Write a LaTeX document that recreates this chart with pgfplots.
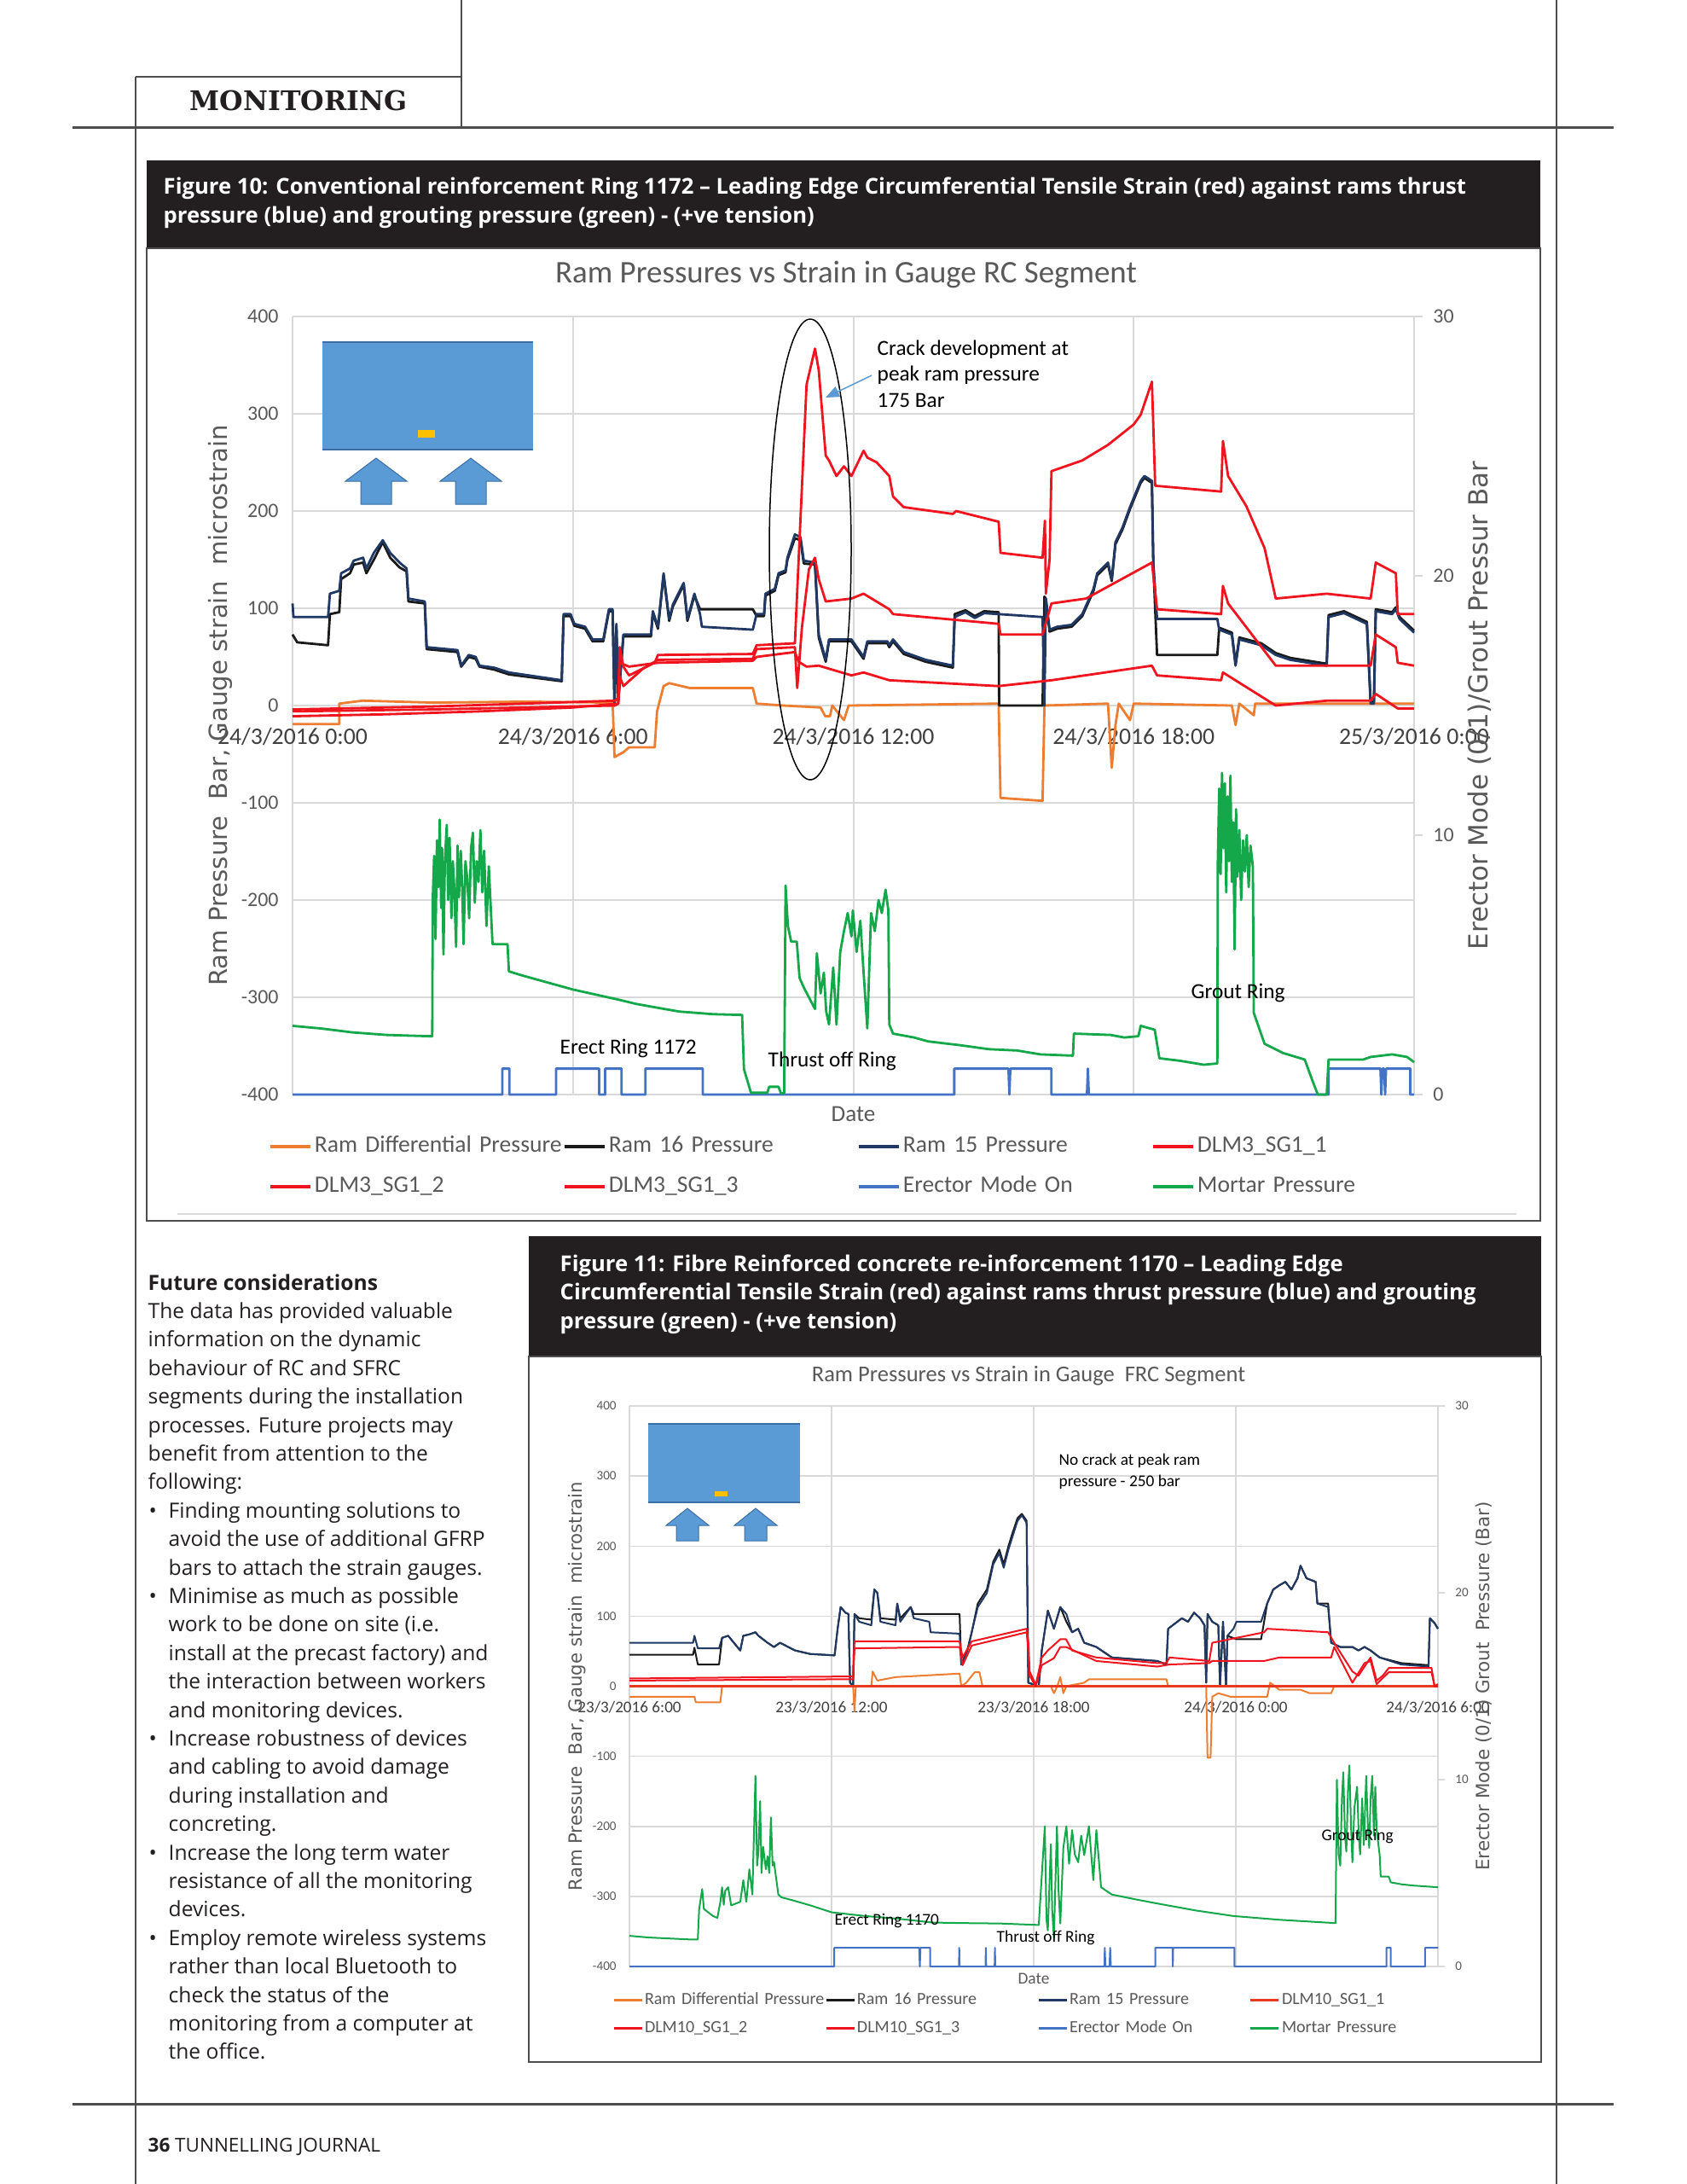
\documentclass[border=0pt]{standalone}
\usepackage{fontspec}
\setmainfont{Open Sans}
\newfontfamily\calibri{Carlito}
\newfontfamily\verd{DejaVu Sans}
\newfontfamily\slab{DejaVu Serif}
\usepackage{pgfplots}
\pgfplotsset{compat=1.18}
\usetikzlibrary{arrows.meta}

\definecolor{capbg}{HTML}{231F20}
\definecolor{inkc}{HTML}{231F20}
\definecolor{rule}{HTML}{4D4D4D}
\definecolor{gridc}{HTML}{D9D9D9}
\definecolor{tickc}{HTML}{595959}
\definecolor{labc}{HTML}{404040}
\definecolor{ramdiff}{HTML}{ED7D31}
\definecolor{ram16}{HTML}{1A1A1A}
\definecolor{ram15}{HTML}{1F3864}
\definecolor{sgred}{HTML}{F0141E}
\definecolor{sgone}{HTML}{E8381E}
\definecolor{erect}{HTML}{4472C4}
\definecolor{mortar}{HTML}{14A84B}
\definecolor{boxblue}{HTML}{5B9BD5}
\definecolor{boxedge}{HTML}{3A6EA5}
\definecolor{gauge}{HTML}{FFC000}

\newcommand\fs[2]{\fontsize{#1}{#2}\selectfont}
% one line of the left column: x, line number, text
\newcommand\tl[3]{\node[anchor=base west, inner sep=0pt, font=\fs{7pt}{8pt}, text=inkc] at ({#1},{1512+33.4*#2}) {#3};}
\newcommand\bul[1]{\node[anchor=base west, inner sep=0pt, font=\fs{7pt}{8pt}, text=inkc] at (174,{1512+33.4*#1}) {\textbullet};}

\pgfplotsset{
  chartbase/.style={scale only axis, xmin=0, xmax=24, clip=false, no markers,
    axis line style={draw=none}, every axis plot/.append style={line join=round}},
}

\begin{document}
\begin{tikzpicture}
\useasboundingbox (0,0) rectangle (197.8mm,-256mm);
\fill[white] (0,0) rectangle (197.8mm,-256mm);

\begin{scope}[x=0.1mm,y=-0.1mm]
  % page rules
  \draw[rule, line width=0.15mm] (159,90) -- (159,2560);
  \draw[rule, line width=0.15mm] (1825,0) -- (1825,2560);
  \draw[rule, line width=0.15mm] (541,0) -- (541,149);
  \draw[rule, line width=0.15mm] (159,90) -- (541,90);
  \draw[rule, line width=0.3mm] (85,149) -- (1892,149);
  \draw[rule, line width=0.3mm] (85,2466) -- (1892,2466);
  \node[font=\slab\bfseries\fs{9pt}{10pt}, text=inkc] at (350,118) {MONITORING};

  % figure 10 frame and caption
  \fill[capbg] (172,188) rectangle (1806,291);
  \draw[rule, line width=0.2mm] (172,291) rectangle (1806,1431);
  \draw[gridc, line width=0.2mm] (208,1423) -- (1778,1423);
  \node[anchor=base west, inner sep=0pt, font=\bfseries\fs{7.3pt}{8pt}, text=white] at (191,227)
    {Figure 10: Conventional reinforcement Ring 1172 – Leading Edge Circumferential Tensile Strain (red) against rams thrust};
  \node[anchor=base west, inner sep=0pt, font=\bfseries\fs{7.3pt}{8pt}, text=white] at (191,261)
    {pressure (blue) and grouting pressure (green) - (+ve tension)};
  \node[font=\calibri\fs{10.5pt}{12pt}, text=tickc] at (992,322) {Ram Pressures vs Strain in Gauge RC Segment};

  % figure 11 frame and caption
  \fill[capbg] (620,1449) rectangle (1807,1590);
  \draw[rule, line width=0.2mm] (620,1590) rectangle (1807,2417);
  \node[anchor=base west, inner sep=0pt, font=\bfseries\fs{7.3pt}{8pt}, text=white] at (656,1490)
    {Figure 11: Fibre Reinforced concrete re-inforcement 1170 – Leading Edge};
  \node[anchor=base west, inner sep=0pt, font=\bfseries\fs{7.3pt}{8pt}, text=white] at (656,1523)
    {Circumferential Tensile Strain (red) against rams thrust pressure (blue) and grouting};
  \node[anchor=base west, inner sep=0pt, font=\bfseries\fs{7.3pt}{8pt}, text=white] at (656,1557)
    {pressure (green) - (+ve tension)};
  \node[font=\calibri\fs{7.55pt}{9pt}, text=tickc] at (1206,1613) {Ram Pressures vs Strain in Gauge\ \ FRC Segment};

  % left column
  \node[anchor=base west, inner sep=0pt, font=\bfseries\fs{7pt}{8pt}, text=inkc] at (173,1512) {Future considerations};
  \tl{173}{1}{The data has provided valuable}
  \tl{173}{2}{information on the dynamic}
  \tl{173}{3}{behaviour of RC and SFRC}
  \tl{173}{4}{segments during the installation}
  \tl{173}{5}{processes. Future projects may}
  \tl{173}{6}{benefit from attention to the}
  \tl{173}{7}{following:}
  \bul{8}\tl{197}{8}{Finding mounting solutions to}
  \tl{197}{9}{avoid the use of additional GFRP}
  \tl{197}{10}{bars to attach the strain gauges.}
  \bul{11}\tl{197}{11}{Minimise as much as possible}
  \tl{197}{12}{work to be done on site (i.e.}
  \tl{197}{13}{install at the precast factory) and}
  \tl{197}{14}{the interaction between workers}
  \tl{197}{15}{and monitoring devices.}
  \bul{16}\tl{197}{16}{Increase robustness of devices}
  \tl{197}{17}{and cabling to avoid damage}
  \tl{197}{18}{during installation and}
  \tl{197}{19}{concreting.}
  \bul{20}\tl{197}{20}{Increase the long term water}
  \tl{197}{21}{resistance of all the monitoring}
  \tl{197}{22}{devices.}
  \bul{23}\tl{197}{23}{Employ remote wireless systems}
  \tl{197}{24}{rather than local Bluetooth to}
  \tl{197}{25}{check the status of the}
  \tl{197}{26}{monitoring from a computer at}
  \tl{197}{27}{the office.}

  % footer
  \node[anchor=base west, inner sep=0pt, font=\fs{6.4pt}{7pt}, text=inkc] at (173,2522) {\textbf{36} TUNNELLING JOURNAL};
\end{scope}

% ---------------- Figure 10, left axis ----------------
\begin{axis}[chartbase,
  at={(34.3mm,-37.1mm)}, anchor=north west, width=131.5mm, height=91.2mm,
  ymin=-400, ymax=400,
  xtick={0,6,12,18,24},
  xticklabels={24/3/2016 0:00,24/3/2016 6:00,24/3/2016 12:00,24/3/2016 18:00,25/3/2016 0:00},
  ytick={-400,-300,-200,-100,0,100,200,300,400},
  yticklabels={-400,-300,-200,-100,0,100,200,300,400},
  major tick length=0pt,
  grid=major, grid style={gridc, line width=0.2mm},
  xticklabel style={font=\calibri\fs{7.9pt}{9pt}, text=labc, anchor=center, yshift=42mm},
  yticklabel style={font=\calibri\fs{6.8pt}{8pt}, text=tickc, xshift=-0.4mm},
  xlabel={Date},
  xlabel style={font=\calibri\fs{7.7pt}{9pt}, text=tickc, at={(axis description cs:0.5,0)}, anchor=center, yshift=-2.3mm},
  ylabel={Ram Pressure\ \ Bar, Gauge strain\ \ microstrain},
  ylabel style={font=\verd\fs{8.3pt}{10pt}, text=tickc, at={(axis description cs:-0.0646,0.5)}, anchor=center},
  legend columns=4, legend cell align=left,
  legend image code/.code={\draw[#1, line width=0.4mm] (0mm,0mm) -- (4.7mm,0mm);},
  legend style={draw=none, fill=none, at={(-0.0213,-0.0526)}, anchor=north west,
    inner sep=0pt, outer sep=0pt, row sep=2.1mm, font=\calibri\fs{7.85pt}{9pt}, text=tickc,
    nodes={inner xsep=0pt, inner ysep=0pt, text height=2.0mm, text depth=0.6mm, text width=29.1mm, align=left},
    /tikz/every odd column/.append style={column sep=0.3mm}},
]
% Ram Differential Pressure
\addplot[ramdiff, line width=0.28mm] coordinates {
(0,-19) (1.0,-19) (1.0,2) (1.5,5) (3,3) (5,4) (6.85,3) (6.89,-53) (7.08,-48) (7.2,-43) (7.75,-43)
(7.8,-6) (7.94,20) (8.06,23) (8.5,18) (9.85,18) (9.93,2) (10.5,0) (11.3,-2) (11.4,-11) (11.5,-11)
(11.55,0) (11.8,-15) (11.9,0) (15.11,2) (15.15,-95) (16.05,-98) (16.09,0) (17.45,2) (17.53,-64)
(17.61,-20) (17.68,2) (17.92,-15) (18.0,2) (20.1,0) (20.18,-20) (20.26,2) (20.57,-10) (20.6,2) (24,2)};
% Ram 16 Pressure
\addplot[ram16, line width=0.28mm] coordinates {
(0,73) (0.1,65) (0.76,62) (0.8,94) (1.0,96) (1.04,130) (1.23,136) (1.31,145) (1.51,147) (1.58,136)
(1.74,150) (1.93,168) (2.09,152) (2.29,142) (2.44,138) (2.48,107) (2.83,105) (2.87,58) (3.53,55)
(3.61,40) (3.77,50) (3.92,48) (4.0,40) (4.31,37) (4.63,32) (5.76,25) (5.8,92) (5.95,92) (6.03,82)
(6.26,79) (6.42,66) (6.65,66) (6.77,97) (6.85,97) (6.89,0) (6.93,82) (6.97,4) (7.08,71) (7.2,71)
(7.67,71) (7.71,95) (7.82,79) (7.94,134) (8.06,87) (8.14,102) (8.37,124) (8.45,87) (8.6,113)
(8.72,99) (9.85,99) (9.93,92) (10.09,92) (10.12,113) (10.32,118) (10.4,134) (10.55,137) (10.59,150)
(10.75,172) (10.87,170) (10.94,146) (11.18,145) (11.26,70) (11.41,45) (11.48,66) (11.96,66)
(12.22,48) (12.3,64) (12.73,64) (12.77,60) (12.85,66) (13.08,53) (13.55,45) (14.13,39) (14.17,94)
(14.4,98) (14.6,92) (14.8,97) (15.11,96) (15.12,0) (16.05,0) (16.09,112) (16.12,110) (16.2,76)
(16.36,79) (16.67,81) (16.9,92) (17.14,118) (17.22,134) (17.45,145) (17.53,128) (17.61,166)
(17.76,181) (17.92,202) (18.15,229) (18.23,234) (18.39,229) (18.42,145) (18.5,52) (19.79,52)
(19.83,80) (20.1,75) (20.18,43) (20.26,70) (20.73,64) (21.04,54) (21.35,49) (22.13,43) (22.17,93)
(22.5,97) (22.99,86) (23.07,4) (23.14,4) (23.18,99) (23.53,96) (23.61,101) (23.69,91) (24.0,77)};
% Ram 15 Pressure
\addplot[ram15, line width=0.28mm] coordinates {
(0.0,105) (0.02,91) (0.76,91) (0.8,115) (1.0,118) (1.04,136) (1.23,141) (1.31,149) (1.51,152)
(1.58,141) (1.74,157) (1.93,170) (2.09,157) (2.29,147) (2.44,141) (2.48,110) (2.83,107) (2.87,60)
(3.53,57) (3.61,41) (3.77,52) (3.92,50) (4.0,41) (4.31,39) (4.63,34) (5.76,26) (5.8,94) (5.95,94)
(6.03,84) (6.26,81) (6.42,68) (6.65,68) (6.77,99) (6.85,99) (6.89,0) (6.93,84) (6.97,5) (7.08,73)
(7.2,73) (7.67,73) (7.71,97) (7.82,81) (7.94,136) (8.06,89) (8.14,104) (8.37,126) (8.45,89)
(8.6,115) (8.72,94) (8.76,81) (9.85,78) (9.93,94) (10.09,94) (10.12,115) (10.32,120) (10.4,136)
(10.55,139) (10.59,152) (10.75,176) (10.87,173) (10.94,149) (11.18,147) (11.26,73) (11.41,47)
(11.48,68) (11.96,68) (12.22,50) (12.3,66) (12.73,66) (12.77,62) (12.85,68) (13.08,55) (13.55,47)
(14.13,41) (14.17,91) (14.4,96) (14.6,90) (14.8,95) (15.11,94) (16.05,91) (16.09,0) (16.12,110)
(16.2,78) (16.36,81) (16.67,83) (16.9,94) (17.14,120) (17.22,136) (17.45,147) (17.53,130)
(17.61,168) (17.76,183) (17.92,204) (18.15,231) (18.23,236) (18.39,231) (18.42,147) (18.5,89)
(19.79,89) (19.83,78) (20.1,73) (20.18,41) (20.26,68) (20.73,62) (21.04,52) (21.35,47) (22.13,41)
(22.17,91) (22.5,95) (22.99,84) (23.07,2) (23.14,2) (23.18,97) (23.53,94) (23.61,99) (23.69,89) (24.0,75)};
% DLM3_SG1_1
\addplot[sgred, line width=0.28mm] coordinates {
(0,-11) (2,-9) (4,-6) (6,-2) (6.97,2) (7.0,60) (7.08,40) (7.2,31) (7.75,44) (7.82,52) (9.85,53)
(9.93,62) (10.75,64) (10.83,150) (11.0,330) (11.18,367) (11.26,345) (11.41,257) (11.48,252)
(11.64,236) (11.8,246) (11.96,236) (12.22,262) (12.3,255) (12.5,250) (12.77,236) (12.85,215)
(13.08,204) (14.13,197) (14.2,200) (15.11,189) (15.15,157) (16.05,152) (16.1,190) (16.12,115)
(16.2,150) (16.24,241) (16.9,252) (17.45,268) (18.0,289) (18.15,299) (18.39,333) (18.46,226)
(19.87,220) (19.91,272) (20.02,236) (20.41,205) (20.8,162) (21.04,110) (22.13,115) (23.07,110)
(23.18,147) (23.61,136) (23.65,94) (24.0,94)};
% DLM3_SG1_2
\addplot[sgred, line width=0.28mm] coordinates {
(0,-6) (3,-4) (6.9,0) (6.97,2) (7.0,30) (7.08,20) (7.5,38) (7.82,47) (9.85,48) (9.93,58)
(10.75,60) (10.8,18) (10.9,80) (11.05,140) (11.18,152) (11.26,130) (11.41,107) (11.96,110)
(12.22,115) (12.77,99) (12.85,94) (15.11,84) (15.15,73) (16.05,73) (16.24,105) (16.98,110)
(18.39,147) (18.5,99) (19.87,94) (19.91,123) (20.02,105) (21.04,41) (23.07,41) (23.18,73)
(23.61,60) (23.65,44) (24.0,41)};
% DLM3_SG1_3
\addplot[sgred, line width=0.28mm] coordinates {
(0,-4) (3,-1) (6.9,5) (6.97,8) (7.0,44) (7.2,40) (7.82,44) (9.85,46) (9.93,50) (10.75,55)
(10.83,45) (11.0,40) (11.26,41) (11.96,31) (12.22,34) (12.77,26) (15.11,20) (16.24,26) (18.39,41)
(18.5,31) (19.87,26) (19.91,34) (21.04,0) (22.13,5) (23.07,5) (23.18,12) (23.65,-3) (24.0,-3)};
\addlegendimage{erect, line width=0.28mm}
\addlegendimage{mortar, line width=0.28mm}
\legend{Ram Differential Pressure, Ram 16 Pressure, Ram 15 Pressure, DLM3\_SG1\_1,
  DLM3\_SG1\_2, DLM3\_SG1\_3, Erector Mode On, Mortar Pressure}
\end{axis}

% ---------------- Figure 10, right axis ----------------
\begin{axis}[chartbase,
  at={(34.3mm,-37.1mm)}, anchor=north west, width=131.5mm, height=91.2mm,
  ymin=0, ymax=30, axis x line=none, axis y line*=right,
  ytick={0,10,20,30}, yticklabels={0,10,20,30},
  tick align=outside, major tick length=1.0mm, tick style={gridc, line width=0.2mm},
  yticklabel style={font=\calibri\fs{6.8pt}{8pt}, text=tickc},
  ylabel={Erector Mode (0/1)/Grout Pressur Bar},
  ylabel style={font=\verd\fs{8.8pt}{10pt}, text=tickc, at={(axis description cs:1.0586,0.5)}, anchor=center},
]
% Erector Mode On
\addplot[erect, line width=0.28mm] coordinates {
(0,0) (4.49,0) (4.49,1) (4.64,1) (4.64,0) (5.64,0) (5.64,1) (6.56,1) (6.56,0) (6.69,0) (6.69,1)
(7.04,1) (7.04,0) (7.55,0) (7.55,1) (8.78,1) (8.78,0) (14.16,0) (14.16,1) (15.32,1) (15.34,0)
(15.36,1) (16.24,1) (16.24,0) (17.0,0) (17.02,1) (17.04,0) (22.17,0) (22.17,1) (23.28,1) (23.3,0)
(23.32,1) (23.36,1) (23.38,0) (23.4,1) (23.92,1) (23.92,0) (24,0)};
% Mortar Pressure
\addplot[mortar, line width=0.28mm] coordinates {
(0,2.65) (0.6,2.55) (1.27,2.4) (2.0,2.3) (2.91,2.25) (2.99,2.25) (3.0,7.5) (3.03,9.2) (3.06,6.0)
(3.09,9.8) (3.12,8.0) (3.15,10.6) (3.18,7.2) (3.2,9.5) (3.23,5.4) (3.26,9.0) (3.3,10.4) (3.33,7.5)
(3.36,9.9) (3.4,6.8) (3.43,9.0) (3.46,8.0) (3.5,5.7) (3.53,9.6) (3.56,7.6) (3.6,9.4) (3.63,8.0)
(3.66,5.8) (3.7,9.0) (3.74,8.3) (3.78,6.8) (3.82,9.5) (3.86,10.1) (3.9,7.4) (3.94,9.0) (3.98,8.2)
(4.02,10.2) (4.06,7.8) (4.1,9.4) (4.15,6.5) (4.2,8.8) (4.25,6.9) (4.28,5.8) (4.6,5.8) (4.63,4.75)
(4.9,4.6) (5.3,4.4) (5.7,4.2) (6.0,4.05) (6.5,3.85) (7.0,3.65) (7.34,3.5) (7.8,3.35) (8.28,3.2)
(9.0,3.1) (9.62,3.07) (9.66,0.98) (9.81,0.07) (10.16,0.07) (10.2,0.3) (10.4,0.3) (10.45,0.05)
(10.52,0.05) (10.55,8.06) (10.6,6.5) (10.67,5.9) (10.79,5.9) (10.85,4.5) (10.94,4.13) (11.18,3.3)
(11.22,5.45) (11.3,3.9) (11.37,4.7) (11.42,3.2) (11.48,2.7) (11.57,4.9) (11.64,2.7) (11.72,5.5)
(11.8,6.3) (11.88,7.0) (11.96,6.1) (11.99,7.1) (12.07,5.5) (12.15,6.7) (12.22,4.7) (12.3,2.55)
(12.38,7.0) (12.46,6.3) (12.54,7.5) (12.61,7.0) (12.69,7.9) (12.75,7.1) (12.77,2.7) (12.85,2.35)
(13.3,2.2) (13.6,2.05) (14.3,1.9) (14.9,1.75) (15.5,1.7) (16.0,1.55) (16.7,1.5) (16.72,2.35)
(17.5,2.3) (17.8,2.2) (18.1,2.25) (18.15,2.65) (18.45,2.5) (18.55,1.4) (19.0,1.3) (19.5,1.15)
(19.79,1.2) (19.8,9.0) (19.83,11.8) (19.86,8.5) (19.89,12.4) (19.92,9.5) (19.95,12.0) (19.98,7.8)
(20.01,11.5) (20.04,9.0) (20.07,12.3) (20.1,8.2) (20.13,10.5) (20.16,5.6) (20.19,11.0) (20.22,8.4)
(20.26,10.2) (20.3,7.5) (20.34,9.8) (20.38,8.6) (20.42,10.0) (20.46,8.0) (20.5,9.6) (20.55,8.8)
(20.57,3.15) (20.8,1.96) (21.2,1.6) (21.66,1.35) (21.82,0.56) (21.94,0) (22.13,0) (22.17,1.35)
(22.91,1.35) (23.07,1.45) (23.53,1.55) (23.85,1.45) (24,1.25)};
\end{axis}

% ---------------- Figure 11, left axis ----------------
\begin{axis}[chartbase,
  at={(73.8mm,-164.8mm)}, anchor=north west, width=94.8mm, height=65.7mm,
  ymin=-400, ymax=400,
  xtick={0,6,12,18,24},
  xticklabels={23/3/2016 6:00,23/3/2016 12:00,23/3/2016 18:00,24/3/2016 0:00,24/3/2016 6:00},
  ytick={-400,-300,-200,-100,0,100,200,300,400},
  yticklabels={-400,-300,-200,-100,0,100,200,300,400},
  major tick length=0pt,
  grid=major, grid style={gridc, line width=0.15mm},
  xticklabel style={font=\calibri\fs{5.45pt}{6.5pt}, text=labc, anchor=center, yshift=30.4mm},
  yticklabel style={font=\calibri\fs{4.3pt}{5pt}, text=tickc, xshift=-0.3mm},
  xlabel={Date},
  xlabel style={font=\calibri\fs{5.5pt}{6pt}, text=tickc, at={(axis description cs:0.5,0)}, anchor=center, yshift=-1.4mm},
  ylabel={Ram Pressure\ \ Bar, Gauge strain\ \ microstrain},
  ylabel style={font=\verd\fs{6.05pt}{7pt}, text=tickc, at={(axis description cs:-0.0643,0.5)}, anchor=center},
  legend columns=4, legend cell align=left,
  legend image code/.code={\draw[#1, line width=0.3mm] (0mm,0mm) -- (3.3mm,0mm);},
  legend style={draw=none, fill=none, at={(-0.0211,-0.0457)}, anchor=north west,
    inner sep=0pt, outer sep=0pt, row sep=1.4mm, font=\calibri\fs{5.7pt}{6.5pt}, text=tickc,
    nodes={inner xsep=0pt, inner ysep=0pt, text height=1.45mm, text depth=0.45mm, text width=21.1mm, align=left},
    /tikz/every odd column/.append style={column sep=0.2mm}},
]
% Ram Differential Pressure
\addplot[ramdiff, line width=0.2mm] coordinates {
(0,-15) (1.93,-15) (1.97,-23) (2.7,-23) (2.75,0) (6.64,0) (6.68,-36) (6.72,0) (7.18,0) (7.22,21)
(7.36,8) (7.9,13) (9.8,18) (9.85,0) (10.0,5) (10.25,20) (10.39,20) (10.48,0) (12.51,0) (12.6,-10)
(12.7,0) (12.79,13) (12.88,-10) (12.97,0) (13.5,5) (13.64,10) (15.94,10) (15.99,0) (17.12,0)
(17.16,-102) (17.25,-102) (17.3,-15) (17.48,-10) (17.84,-15) (18.93,-15) (19.02,5) (19.29,-5)
(19.92,-5) (20.19,-10) (20.83,-10) (20.92,0) (24,0)};
% Ram 16 Pressure
\addplot[ram16, line width=0.2mm] coordinates {
(0,45) (1.89,45) (1.93,55) (2.03,31) (2.66,31) (2.75,69) (2.93,72) (3.29,51) (3.38,72) (3.56,74)
(3.74,77) (3.83,72) (4.1,62) (4.29,56) (4.47,62) (4.92,51) (5.37,46) (6.09,44) (6.18,82) (6.27,113)
(6.41,105) (6.5,103) (6.55,5) (6.64,0) (6.68,103) (6.82,97) (7.18,95) (7.27,138) (7.36,133)
(7.45,97) (7.9,95) (7.95,118) (8.04,97) (8.35,113) (8.44,103) (8.9,103) (9.8,103) (9.85,31)
(10.03,51) (10.16,77) (10.34,118) (10.61,138) (10.8,178) (10.98,195) (11.11,174) (11.25,200)
(11.38,220) (11.52,240) (11.65,246) (11.79,236) (11.84,5) (12.15,0) (12.24,51) (12.42,108)
(12.6,82) (12.79,113) (12.97,92) (13.14,77) (13.32,82) (13.5,62) (13.86,56) (14.32,41) (15.67,36)
(15.94,31) (15.99,82) (16.4,97) (16.58,92) (16.76,105) (16.94,97) (17.07,87) (17.12,5) (17.16,103)
(17.3,92) (17.48,87) (17.53,0) (17.62,92) (17.71,0) (17.75,72) (18.02,67) (18.75,67) (18.84,92)
(18.93,118) (19.11,138) (19.29,144) (19.47,149) (19.65,138) (19.83,154) (19.92,172) (20.1,154)
(20.37,149) (20.42,118) (20.74,118) (20.83,62) (21.1,56) (21.46,56) (21.64,51) (21.82,56) (22.0,51)
(22.27,41) (22.91,33) (23.72,30) (23.76,97) (23.9,90) (24,82)};
% Ram 15 Pressure
\addplot[ram15, line width=0.2mm] coordinates {
(0,62) (1.89,62) (1.93,72) (2.03,54) (2.66,54) (2.75,69) (2.93,72) (3.29,51) (3.38,72) (3.56,74)
(3.74,77) (3.83,72) (4.1,62) (4.29,56) (4.47,62) (4.92,51) (5.37,46) (6.09,44) (6.18,82) (6.27,113)
(6.41,105) (6.5,103) (6.55,5) (6.64,0) (6.68,103) (6.82,92) (7.18,87) (7.27,138) (7.36,133)
(7.45,92) (7.9,87) (7.95,118) (8.04,92) (8.35,113) (8.44,97) (8.9,92) (8.94,77) (9.8,75) (9.85,31)
(10.03,51) (10.16,77) (10.34,113) (10.61,133) (10.8,174) (10.98,190) (11.11,169) (11.25,195)
(11.38,215) (11.52,236) (11.65,244) (11.79,233) (11.84,5) (12.15,0) (12.24,51) (12.42,108)
(12.6,82) (12.79,113) (12.97,103) (13.14,77) (13.32,82) (13.5,62) (13.86,56) (14.32,41) (15.67,36)
(15.94,31) (15.99,82) (16.4,97) (16.58,92) (16.76,105) (16.94,97) (17.07,87) (17.12,5) (17.16,103)
(17.3,92) (17.48,87) (17.53,0) (17.62,92) (17.71,0) (17.75,72) (17.93,82) (18.02,92) (18.75,92)
(18.93,118) (19.11,138) (19.29,144) (19.47,149) (19.65,138) (19.83,154) (19.92,172) (20.1,154)
(20.37,149) (20.42,118) (20.74,113) (20.83,62) (21.1,56) (21.46,56) (21.64,51) (21.82,56) (22.0,51)
(22.27,41) (22.91,31) (23.72,28) (23.76,97) (23.9,90) (24,82)};
% DLM10_SG1_1
\addplot[sgone, line width=0.25mm] coordinates {(0,0) (24,0)};
% DLM10_SG1_2
\addplot[sgred, line width=0.2mm] coordinates {
(0,11) (6.64,14) (6.68,64) (9.8,64) (9.89,41) (10.16,64) (11.79,82) (11.84,64) (11.88,21) (12.06,2)
(12.24,41) (12.42,51) (12.79,67) (12.96,67) (13.14,51) (13.86,41) (15.67,33) (15.94,33) (16.03,41)
(17.21,36) (17.3,62) (18.02,69) (18.84,77) (18.93,82) (20.74,77) (20.92,62) (21.46,21) (21.64,15)
(22.0,41) (22.18,8) (22.36,15) (22.54,26) (23.81,26) (23.9,0) (24,3)};
% DLM10_SG1_3
\addplot[sgred, line width=0.2mm] coordinates {
(0,8) (6.64,10) (6.68,54) (9.8,56) (9.89,30) (10.16,58) (11.79,77) (11.84,50) (11.88,15) (12.06,0)
(12.24,30) (12.6,40) (12.79,56) (12.96,56) (13.86,36) (15.67,28) (16.03,31) (17.21,33) (17.3,36)
(18.84,36) (19.29,41) (20.83,41) (20.92,56) (21.46,5) (21.82,33) (22.0,36) (22.18,3) (22.54,20)
(23.81,20) (23.9,0) (24,0)};
\addlegendimage{erect, line width=0.2mm}
\addlegendimage{mortar, line width=0.2mm}
\legend{Ram Differential Pressure, Ram 16 Pressure, Ram 15 Pressure, DLM10\_SG1\_1,
  DLM10\_SG1\_2, DLM10\_SG1\_3, Erector Mode On, Mortar Pressure}
\end{axis}

% ---------------- Figure 11, right axis ----------------
\begin{axis}[chartbase,
  at={(73.8mm,-164.8mm)}, anchor=north west, width=94.8mm, height=65.7mm,
  ymin=0, ymax=30, axis x line=none, axis y line*=right,
  ytick={0,10,20,30}, yticklabels={0,10,20,30},
  tick align=outside, major tick length=0.8mm, tick style={gridc, line width=0.15mm},
  yticklabel style={font=\calibri\fs{4.3pt}{5pt}, text=tickc},
  ylabel={Erector Mode (0/1) Grout\ \ Pressure (Bar)},
  ylabel style={font=\verd\fs{6.1pt}{7pt}, text=tickc, at={(axis description cs:1.057,0.5)}, anchor=center},
]
% Erector Mode On
\addplot[erect, line width=0.2mm] coordinates {
(0,0) (6.08,0) (6.08,1) (8.6,1) (8.62,0) (8.64,1) (8.93,1) (8.93,0) (9.78,0) (9.79,1) (9.8,0)
(10.57,0) (10.58,1) (10.59,0) (10.84,0) (10.85,1) (10.86,0) (14.1,0) (14.11,1) (14.13,0) (14.25,0)
(14.27,1) (14.29,0) (15.61,0) (15.61,1) (16.12,1) (16.13,0) (16.14,1) (17.96,1) (17.96,0) (22.47,0)
(22.47,1) (22.6,1) (22.6,0) (23.62,0) (23.62,1) (24,1)};
% Mortar Pressure
\addplot[mortar, line width=0.2mm] coordinates {
(0,1.64) (0.58,1.55) (1.75,1.45) (2.03,1.45) (2.07,3.08) (2.16,4.14) (2.21,3.08) (2.48,2.7) (2.61,2.6)
(2.7,3.46) (2.75,4.24) (2.8,3.3) (2.84,4.04) (2.93,4.24) (3.02,3.27) (3.29,3.46) (3.38,4.62)
(3.47,3.46) (3.56,5.2) (3.65,3.85) (3.74,10.2) (3.79,5.4) (3.83,6.2) (3.88,8.85) (3.92,5.0)
(3.97,6.4) (4.05,5.2) (4.1,5.9) (4.15,5.0) (4.2,7.98) (4.25,5.4) (4.29,5.6) (4.42,3.85) (4.51,3.7)
(4.83,3.55) (5.37,3.27) (6.0,2.9) (7.0,2.7) (8.0,2.55) (9.0,2.35) (10.0,2.32) (11.0,2.3) (12.15,2.22)
(12.33,7.5) (12.38,2.5) (12.42,1.93) (12.51,6.54) (12.55,3.0) (12.6,1.54) (12.69,7.5) (12.74,4.0)
(12.79,2.3) (12.88,6.36) (12.97,7.5) (13.05,5.5) (13.14,7.3) (13.22,6.0) (13.32,5.58) (13.41,7.0)
(13.5,5.96) (13.64,7.5) (13.77,4.62) (13.86,7.3) (14.0,4.24) (14.32,3.85) (15.0,3.6) (15.67,3.37)
(16.8,3.0) (17.93,2.7) (19.29,2.5) (20.96,2.32) (21.0,10.0) (21.05,6.0) (21.1,5.39) (21.15,9.0)
(21.19,10.4) (21.24,7.0) (21.28,6.15) (21.33,9.5) (21.37,10.76) (21.42,7.5) (21.46,5.58) (21.52,8.5)
(21.6,9.62) (21.65,7.0) (21.69,6.0) (21.75,9.0) (21.8,6.5) (21.87,10.2) (21.92,7.5) (21.96,6.35)
(22.0,9.0) (22.05,10.2) (22.1,7.0) (22.14,9.62) (22.18,7.3) (22.27,5.96) (22.3,4.81) (22.54,4.81)
(22.6,4.5) (22.91,4.4) (23.27,4.33) (24,4.24)};
\end{axis}

% ---------------- insets and notes ----------------
\begin{scope}[x=0.1mm,y=-0.1mm]
  % figure 10 inset
  \fill[boxblue] (378,401) rectangle (625,527);
  \draw[boxedge, line width=0.2mm] (378,401) -- (625,401) (378,527) -- (625,527);
  \fill[gauge] (490,504) rectangle (510,513);
  \foreach \cx in {441,552}{
    \filldraw[fill=boxblue, draw=boxedge, line width=0.1mm]
      (\cx,537) -- (\cx+36,564) -- (\cx+18,564) -- (\cx+18,591) -- (\cx-18,591) -- (\cx-18,564) -- (\cx-36,564) -- cycle;}
  \draw[black, line width=0.15mm] (950,644) ellipse [x radius=48, y radius=270];
  \draw[boxblue, line width=0.15mm, -{Triangle[length=1.6mm,width=1.3mm]}] (1022,440) -- (968,466);
  \node[anchor=base west, inner sep=0pt, font=\calibri\fs{7.2pt}{8pt}] at (1028,416) {Crack development at};
  \node[anchor=base west, inner sep=0pt, font=\calibri\fs{7.2pt}{8pt}] at (1028,446) {peak ram pressure};
  \node[anchor=base west, inner sep=0pt, font=\calibri\fs{7.2pt}{8pt}] at (1028,477) {175 Bar};
  \node[anchor=base west, inner sep=0pt, font=\calibri\fs{7.2pt}{8pt}] at (656,1235) {Erect Ring 1172};
  \node[anchor=base west, inner sep=0pt, font=\calibri\fs{7.2pt}{8pt}] at (900,1250) {Thrust off Ring};
  \node[anchor=base west, inner sep=0pt, font=\calibri\fs{7.2pt}{8pt}] at (1396,1170) {Grout Ring};

  % figure 11 inset
  \fill[boxblue] (760,1669) rectangle (938,1761);
  \draw[boxedge, line width=0.15mm] (760,1669) -- (938,1669) (760,1761) -- (938,1761);
  \fill[gauge] (838,1748) rectangle (853,1754);
  \foreach \cx in {806,886}{
    \filldraw[fill=boxblue, draw=boxedge, line width=0.1mm]
      (\cx,1768) -- (\cx+25,1788) -- (\cx+13,1788) -- (\cx+13,1806) -- (\cx-13,1806) -- (\cx-13,1788) -- (\cx-25,1788) -- cycle;}
  \node[anchor=base west, inner sep=0pt, font=\calibri\fs{5.5pt}{6pt}] at (1241,1717) {No crack at peak ram};
  \node[anchor=base west, inner sep=0pt, font=\calibri\fs{5.5pt}{6pt}] at (1241,1742) {pressure - 250 bar};
  \node[anchor=base west, inner sep=0pt, font=\calibri\fs{5.5pt}{6pt}] at (978,2256) {Erect Ring 1170};
  \node[anchor=base west, inner sep=0pt, font=\calibri\fs{5.5pt}{6pt}] at (1168,2276) {Thrust off Ring};
  \node[anchor=base west, inner sep=0pt, font=\calibri\fs{5.5pt}{6pt}] at (1549,2157) {Grout Ring};
\end{scope}
\end{tikzpicture}
\end{document}
